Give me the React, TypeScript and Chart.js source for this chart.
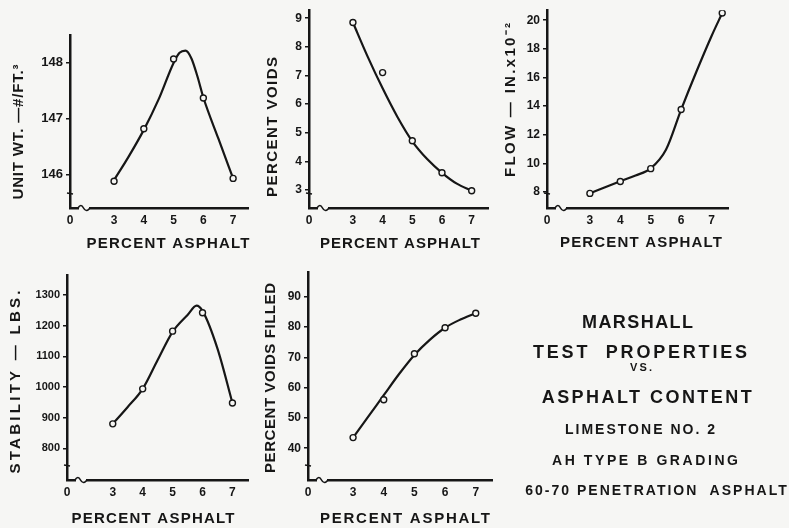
import React, { useEffect, useRef } from "react";
import { Chart, registerables } from "chart.js";
Chart.register(...registerables);

const W = 789;
const H = 528;
const INK = "#161616";
const PAPER = "#f6f6f4";
const FONT = '"Liberation Sans", Arial, sans-serif';
const Y_BOX = 62;
const X_BOX = 30;

// ---------------- data ----------------
const xTickValues = [0, 3, 4, 5, 6, 7];
const asphaltTested = [3, 4, 5, 6, 7];

const unitWtPoints = [145.88, 146.82, 148.07, 147.37, 145.93];
const unitWtCurveX = [3, 3.5, 4, 4.5, 5, 5.2, 5.4, 5.6, 5.8, 6, 6.5, 7];
const unitWtCurveY = [145.9, 146.33, 146.8, 147.35, 148.0, 148.18, 148.22, 148.08, 147.76, 147.38, 146.65, 145.93];
const unitWtTicks = [146, 147, 148];

const voidsPoints = [8.85, 7.1, 4.72, 3.6, 2.97];
const voidsCurveX = [3, 3.5, 4, 4.5, 5, 5.5, 6, 6.5, 7];
const voidsCurveY = [8.85, 7.65, 6.55, 5.55, 4.7, 4.08, 3.6, 3.22, 2.97];
const voidsTicks = [3, 4, 5, 6, 7, 8, 9];

const flowAsphalt = [3, 4, 5, 6, 7.35];
const flowPoints = [7.9, 8.73, 9.63, 13.76, 20.5];
const flowCurveX = [3, 3.5, 4, 4.5, 5, 5.5, 6, 6.5, 7, 7.35];
const flowCurveY = [7.9, 8.33, 8.75, 9.15, 9.65, 10.95, 13.76, 16.4, 18.9, 20.5];
const flowTicks = [8, 10, 12, 14, 16, 18, 20];

const stabilityPoints = [880, 994, 1182, 1242, 948];
const stabilityCurveX = [3, 3.5, 4, 4.5, 5, 5.5, 5.8, 6, 6.5, 7];
const stabilityCurveY = [880, 935, 994, 1088, 1180, 1235, 1265, 1248, 1125, 948];
const stabilityTicks = [800, 900, 1000, 1100, 1200, 1300];

const vfaPoints = [43.5, 56, 71.2, 79.8, 84.6];
const vfaCurveX = [3, 3.5, 4, 4.5, 5, 5.5, 6, 6.5, 7];
const vfaCurveY = [43.5, 50.5, 57.5, 64.5, 70.8, 75.8, 79.8, 82.5, 84.6];
const vfaTicks = [40, 50, 60, 70, 80, 90];

const titleLines = [
  "MARSHALL",
  "TEST  PROPERTIES",
  "VS.",
  "ASPHALT CONTENT",
  "LIMESTONE NO. 2",
  "AH TYPE B GRADING",
  "60-70 PENETRATION  ASPHALT",
];

// ---------------- layout / style ----------------
type Label = { text: string; x: number; y: number; len: number; size: number; vertical?: boolean };
type Spec = {
  area: { l: number; t: number; r: number; b: number };
  xMin: number; xMax: number; yMin: number; yMax: number;
  yTicks: number[]; yTickSize: number;
  px: number[]; py: number[]; cx: number[]; cy: number[];
  yTitle: Label; xTitle: Label;
};

const specs: Spec[] = [
  {
    area: { l: 70, t: 35, r: 248, b: 208 }, xMin: 1.52, xMax: 7.5, yMin: 145.4, yMax: 148.5,
    yTicks: unitWtTicks, yTickSize: 13, px: asphaltTested, py: unitWtPoints, cx: unitWtCurveX, cy: unitWtCurveY,
    yTitle: { text: "UNIT WT. —#/FT.³", x: 18, y: 132, len: 135, size: 15, vertical: true },
    xTitle: { text: "PERCENT ASPHALT", x: 168, y: 243, len: 163, size: 15 },
  },
  {
    area: { l: 309, t: 10, r: 488, b: 208 }, xMin: 1.52, xMax: 7.55, yMin: 2.37, yMax: 9.28,
    yTicks: voidsTicks, yTickSize: 12, px: asphaltTested, py: voidsPoints, cx: voidsCurveX, cy: voidsCurveY,
    yTitle: { text: "PERCENT VOIDS", x: 272, y: 127, len: 140, size: 15, vertical: true },
    xTitle: { text: "PERCENT ASPHALT", x: 400, y: 243, len: 160, size: 15 },
  },
  {
    area: { l: 547, t: 7, r: 728, b: 208 }, xMin: 1.59, xMax: 7.54, yMin: 6.88, yMax: 20.7,
    yTicks: flowTicks, yTickSize: 12, px: flowAsphalt, py: flowPoints, cx: flowCurveX, cy: flowCurveY,
    yTitle: { text: "FLOW — IN.x10⁻²", x: 510, y: 100, len: 154, size: 15, vertical: true },
    xTitle: { text: "PERCENT ASPHALT", x: 641, y: 242, len: 162, size: 15 },
  },
  {
    area: { l: 67, t: 275, r: 248, b: 480 }, xMin: 1.47, xMax: 7.52, yMin: 697, yMax: 1365,
    yTicks: stabilityTicks, yTickSize: 11, px: asphaltTested, py: stabilityPoints, cx: stabilityCurveX, cy: stabilityCurveY,
    yTitle: { text: "STABILITY — LBS.", x: 15, y: 382, len: 183, size: 15, vertical: true },
    xTitle: { text: "PERCENT ASPHALT", x: 153, y: 518, len: 163, size: 15 },
  },
  {
    area: { l: 308, t: 272, r: 492, b: 480 }, xMin: 1.53, xMax: 7.53, yMin: 29.5, yMax: 98.2,
    yTicks: vfaTicks, yTickSize: 12, px: asphaltTested, py: vfaPoints, cx: vfaCurveX, cy: vfaCurveY,
    yTitle: { text: "PERCENT VOIDS FILLED", x: 270, y: 378, len: 190, size: 15, vertical: true },
    xTitle: { text: "PERCENT ASPHALT", x: 405, y: 518, len: 170, size: 15 },
  },
];

const blockStyle = [
  { x: 637.5, base: 328, size: 18, len: 111 },
  { x: 640, base: 358, size: 18, len: 214 },
  { x: 641, base: 371.5, size: 11, len: 22 },
  { x: 646.7, base: 403, size: 18, len: 210 },
  { x: 640, base: 434, size: 14, len: 150 },
  { x: 645, base: 465, size: 14, len: 186 },
  { x: 656, base: 495, size: 14, len: 262 },
];

function drawLabel(ctx: CanvasRenderingContext2D, t: Label) {
  ctx.save();
  ctx.font = `bold ${t.size}px ${FONT}`;
  ctx.fillStyle = INK;
  (ctx as any).letterSpacing = "0px";
  const w = ctx.measureText(t.text).width;
  const n = Array.from(t.text).length;
  const ls = n > 1 ? Math.max(0, (t.len - w) / (n - 1)) : 0;
  (ctx as any).letterSpacing = `${ls}px`;
  ctx.textAlign = "left";
  ctx.textBaseline = "alphabetic";
  const half = t.size * 0.358;
  if (t.vertical) {
    ctx.translate(t.x + half, t.y);
    ctx.rotate(-Math.PI / 2);
  } else {
    ctx.translate(t.x, t.y + half);
  }
  const total = w + ls * (n - 1);
  ctx.fillText(t.text, -total / 2, 0);
  ctx.restore();
}

function makeChart(canvas: HTMLCanvasElement, s: Spec) {
  const decor = {
    id: "decor",
    afterDraw(chart: any) {
      const ctx: CanvasRenderingContext2D = chart.ctx;
      const { left, bottom } = chart.chartArea;
      ctx.save();
      // x-axis break
      ctx.fillStyle = PAPER;
      ctx.fillRect(left + 9, bottom - 2, 10, 4);
      ctx.strokeStyle = INK;
      ctx.lineWidth = 1.6;
      ctx.beginPath();
      ctx.moveTo(left + 8, bottom);
      ctx.quadraticCurveTo(left + 11, bottom - 5, left + 13.5, bottom);
      ctx.quadraticCurveTo(left + 16, bottom + 5, left + 20, bottom);
      ctx.stroke();
      // y-axis break mark
      ctx.beginPath();
      ctx.moveTo(left - 3, bottom - 15);
      ctx.lineTo(left + 3, bottom - 14);
      ctx.stroke();
      ctx.restore();
      drawLabel(ctx, s.yTitle);
      drawLabel(ctx, s.xTitle);
    },
  };
  const points = s.px.map((x, i) => ({ x, y: s.py[i] }));
  const curve = s.cx.map((x, i) => ({ x, y: s.cy[i] }));
  return new Chart(canvas, {
    type: "scatter",
    data: {
      datasets: [
        {
          type: "scatter",
          data: points,
          pointRadius: 3,
          pointBorderWidth: 1.4,
          pointBackgroundColor: PAPER,
          pointBorderColor: INK,
          order: 0,
        } as any,
        {
          type: "line",
          data: curve,
          borderColor: INK,
          borderWidth: 2.2,
          pointRadius: 0,
          fill: false,
          cubicInterpolationMode: "monotone",
          order: 1,
        } as any,
      ],
    },
    options: {
      responsive: false,
      animation: false,
      events: [],
      layout: {
        padding: { left: s.area.l - Y_BOX, top: s.area.t, right: W - s.area.r, bottom: H - s.area.b - X_BOX },
      },
      plugins: { legend: { display: false }, tooltip: { enabled: false } },
      scales: {
        x: {
          type: "linear",
          min: s.xMin,
          max: s.xMax,
          afterFit: (sc: any) => { sc.height = X_BOX; },
          afterBuildTicks: (sc: any) => {
            sc.ticks = xTickValues.map((v) => ({ value: v === 0 ? s.xMin : v }));
          },
          ticks: {
            callback: (v: any) => (v === s.xMin ? "0" : String(v)),
            font: { family: FONT, size: 12, weight: "bold" },
            color: INK,
            padding: 5,
            autoSkip: false,
            maxRotation: 0,
          },
          grid: { display: false, drawTicks: false },
          border: { display: true, color: INK, width: 2.5 },
        },
        y: {
          type: "linear",
          min: s.yMin,
          max: s.yMax,
          afterFit: (sc: any) => { sc.width = Y_BOX; },
          afterBuildTicks: (sc: any) => {
            sc.ticks = s.yTicks.map((v) => ({ value: v }));
          },
          ticks: {
            callback: (v: any) => String(v),
            font: { family: FONT, size: s.yTickSize, weight: "bold" },
            color: INK,
            padding: 3,
            autoSkip: false,
          },
          grid: { display: true, drawOnChartArea: false, drawTicks: true, tickLength: 4, color: INK, lineWidth: 1.5 },
          border: { display: true, color: INK, width: 2.5 },
        },
      },
    } as any,
    plugins: [decor],
  });
}

function spacingFor(text: string, size: number, len: number) {
  const c = document.createElement("canvas").getContext("2d");
  if (!c) return 1;
  c.font = `bold ${size}px ${FONT}`;
  const w = c.measureText(text).width;
  const n = Array.from(text).length;
  return n > 1 ? Math.max(0, (len - w) / (n - 1)) : 0;
}

export default function App() {
  const refs = useRef<(HTMLCanvasElement | null)[]>([]);
  useEffect(() => {
    const charts = specs.map((s, i) => makeChart(refs.current[i] as HTMLCanvasElement, s));
    return () => charts.forEach((c) => c.destroy());
  }, []);

  return (
    <div style={{ position: "fixed", left: 0, top: 0, width: W, height: H, background: PAPER, overflow: "hidden" }}>
      {specs.map((_, i) => (
        <canvas
          key={i}
          ref={(el) => { refs.current[i] = el; }}
          width={W}
          height={H}
          style={{ position: "absolute", left: 0, top: 0, width: W, height: H }}
        />
      ))}
      {titleLines.map((t, i) => {
        const st = blockStyle[i];
        const ls = spacingFor(t, st.size, st.len);
        return (
          <div
            key={i}
            style={{
              position: "absolute",
              left: st.x - 200 + ls / 2,
              top: st.base - 0.8465 * st.size,
              width: 400,
              textAlign: "center",
              fontFamily: FONT,
              fontWeight: "bold",
              fontSize: st.size,
              lineHeight: `${st.size}px`,
              letterSpacing: `${ls}px`,
              whiteSpace: "pre",
              color: INK,
            }}
          >
            {t}
          </div>
        );
      })}
    </div>
  );
}
